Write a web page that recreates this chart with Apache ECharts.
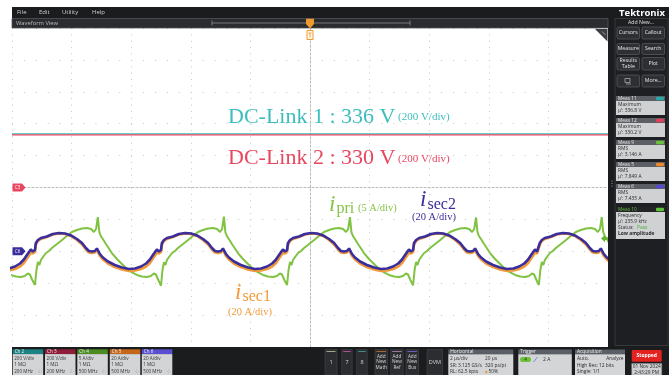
<!DOCTYPE html>
<html>
<head>
<meta charset="utf-8">
<script src="https://cdn.jsdelivr.net/npm/echarts@6/dist/echarts.min.js"></script>
<style>
  html, body { margin: 0; padding: 0; background: #ffffff; }
  #scope { width: 669px; height: 375px; }
</style>
</head>
<body>
<div id="scope"></div>
<script>
// ---- Captured waveform data (time in microseconds) ----
const timeSpanUs = [-10, 10];      // 2 us/div, 10 divisions, trigger at 50 %
const usPerDiv = 2;

// DC-link voltages (Ch2, Ch3), volts
const dcLink1Volts = 336;
const dcLink2Volts = 330;

// Primary current i_pri (Ch4, 5 A/div)
const priTimeUs = [
  -10.20,-10.04,-9.87,-9.70,-9.57,-9.47,-9.40,-9.32,
  -9.23,-9.18,-9.13,-9.08,-9.03,-8.96,-8.86,-8.76,-8.66,-8.49,-8.32,-8.16,-7.99,-7.82,-7.65,-7.48,-7.35,-7.25,-7.18,-7.12,-7.07,-7.02,-6.96,-6.91,-6.85,-6.78,-6.65,-6.48,-6.31,-6.14,-5.97,-5.81,-5.64,-5.47,-5.34,-5.24,-5.17,-5.09,
  -5.00,-4.95,-4.90,-4.85,-4.80,-4.73,-4.63,-4.53,-4.43,-4.26,-4.09,-3.93,-3.76,-3.59,-3.42,-3.25,-3.12,-3.02,-2.95,-2.89,-2.84,-2.79,-2.73,-2.68,-2.62,-2.55,-2.42,-2.25,-2.08,-1.91,-1.74,-1.58,-1.41,-1.24,-1.11,-1.01,-0.94,-0.86,
  -0.77,-0.72,-0.67,-0.62,-0.57,-0.50,-0.40,-0.30,-0.20,-0.03,0.14,0.30,0.47,0.64,0.81,0.98,1.11,1.21,1.28,1.34,1.39,1.44,1.50,1.55,1.61,1.68,1.81,1.98,2.15,2.32,2.49,2.65,2.82,2.99,3.12,3.22,3.29,3.37,
  3.46,3.51,3.56,3.61,3.66,3.73,3.83,3.93,4.03,4.20,4.37,4.53,4.70,4.87,5.04,5.21,5.34,5.44,5.51,5.57,5.62,5.67,5.73,5.78,5.84,5.91,6.04,6.21,6.38,6.55,6.72,6.88,7.05,7.22,7.35,7.45,7.52,7.60,
  7.68,7.73,7.78,7.83,7.88,7.95,8.05,8.15,8.25,8.42,8.59,8.75,8.92,9.09,9.26,9.43,9.56,9.66,9.73,9.79,9.84,9.89,9.95,10.00,10.06
];
const priAmps = [
  -3.32,-3.71,-3.95,-4.03,-3.87,-3.48,-3.64,-4.50,
  -5.28,-2.93,-1.68,-2.15,-1.36,-0.89,-0.27,0.05,0.52,1.14,1.77,2.40,3.02,3.34,3.57,3.65,3.49,3.02,3.49,5.37,3.02,2.40,2.71,1.61,1.14,0.67,-0.27,-1.21,-1.99,-2.77,-3.32,-3.71,-3.95,-4.03,-3.87,-3.48,-3.64,-4.50,
  -5.40,-2.93,-1.70,-2.15,-1.36,-0.89,-0.27,0.05,0.52,1.14,1.77,2.40,3.02,3.34,3.57,3.65,3.49,3.02,3.49,5.45,3.02,2.40,2.71,1.61,1.14,0.67,-0.27,-1.21,-1.99,-2.77,-3.32,-3.71,-3.95,-4.03,-3.87,-3.48,-3.64,-4.50,
  -5.28,-2.93,-1.68,-2.15,-1.36,-0.89,-0.27,0.05,0.52,1.14,1.77,2.40,3.02,3.34,3.57,3.65,3.49,3.02,3.49,5.37,3.02,2.40,2.71,1.61,1.14,0.67,-0.27,-1.21,-1.99,-2.77,-3.32,-3.71,-3.95,-4.03,-3.87,-3.48,-3.64,-4.50,
  -5.34,-2.93,-1.68,-2.15,-1.36,-0.89,-0.27,0.05,0.52,1.14,1.77,2.40,3.02,3.34,3.57,3.65,3.49,3.02,3.49,5.30,3.02,2.40,2.71,1.61,1.14,0.67,-0.27,-1.21,-1.99,-2.77,-3.32,-3.71,-3.95,-4.03,-3.87,-3.48,-3.64,-4.50,
  -5.28,-2.93,-1.68,-2.15,-1.36,-0.89,-0.27,0.05,0.52,1.14,1.77,2.40,3.02,3.34,3.57,3.65,3.49,3.02,3.49,5.37,3.02,2.40,2.71,1.61,1.14
];

// Secondary currents i_sec1 (Ch5) and i_sec2 (Ch6), 20 A/div
const secTimeUs = [
  -10.10,-9.90,-9.73,-9.60,-9.50,-9.43,-9.37,-9.30,-9.25,
  -9.23,-9.20,-9.13,-9.03,-8.83,-8.63,-8.42,-8.22,-8.02,-7.82,-7.65,-7.52,-7.42,-7.32,-7.22,-7.15,-7.10,-7.05,-6.95,-6.78,-6.55,-6.31,-6.08,-5.87,-5.67,-5.50,-5.37,-5.27,-5.20,-5.14,-5.07,-5.02,
  -5.00,-4.97,-4.90,-4.80,-4.60,-4.40,-4.19,-3.99,-3.79,-3.59,-3.42,-3.29,-3.19,-3.09,-2.99,-2.92,-2.87,-2.82,-2.72,-2.55,-2.32,-2.08,-1.85,-1.64,-1.44,-1.27,-1.14,-1.04,-0.97,-0.91,-0.84,-0.79,
  -0.77,-0.74,-0.67,-0.57,-0.37,-0.17,0.04,0.24,0.44,0.64,0.81,0.94,1.04,1.14,1.24,1.31,1.36,1.41,1.51,1.68,1.91,2.15,2.38,2.59,2.79,2.96,3.09,3.19,3.26,3.32,3.39,3.44,
  3.46,3.49,3.56,3.66,3.86,4.06,4.27,4.47,4.67,4.87,5.04,5.17,5.27,5.37,5.47,5.54,5.59,5.64,5.74,5.91,6.14,6.38,6.61,6.82,7.02,7.19,7.32,7.42,7.49,7.55,7.62,7.67,
  7.68,7.71,7.78,7.88,8.08,8.28,8.49,8.69,8.89,9.09,9.26,9.39,9.49,9.59,9.69,9.76,9.81,9.86,9.96,10.13
];
const sec1Amps = [
  -12.04,-11.10,-9.53,-7.34,-4.51,-2.63,-0.75,-1.38,-1.69,
  -0.44,3.95,6.46,7.71,8.97,10.53,11.16,10.85,9.59,7.09,4.26,1.13,-0.75,-1.07,-0.75,0.82,0.19,-2.95,-5.14,-7.65,-9.84,-11.41,-12.35,-12.04,-11.10,-9.53,-7.34,-4.51,-2.63,-0.75,-1.38,-1.69,
  -0.44,3.95,6.46,7.71,8.97,10.53,11.16,10.85,9.59,7.09,4.26,1.13,-0.75,-1.07,-0.75,0.82,0.19,-2.95,-5.14,-7.65,-9.84,-11.41,-12.35,-12.04,-11.10,-9.53,-7.34,-4.51,-2.63,-0.75,-1.38,-1.69,
  -0.44,3.95,6.46,7.71,8.97,10.53,11.16,10.85,9.59,7.09,4.26,1.13,-0.75,-1.07,-0.75,0.82,0.19,-2.95,-5.14,-7.65,-9.84,-11.41,-12.35,-12.04,-11.10,-9.53,-7.34,-4.51,-2.63,-0.75,-1.38,-1.69,
  -0.44,3.95,6.46,7.71,8.97,10.53,11.16,10.85,9.59,7.09,4.26,1.13,-0.75,-1.07,-0.75,0.82,0.19,-2.95,-5.14,-7.65,-9.84,-11.41,-12.35,-12.04,-11.10,-9.53,-7.34,-4.51,-2.63,-0.75,-1.38,-1.69,
  -0.44,3.95,6.46,7.71,8.97,10.53,11.16,10.85,9.59,7.09,4.26,1.13,-0.75,-1.07,-0.75,0.82,0.19,-2.95,-5.14,-7.65
];
const sec2Amps = [
  -10.78,-9.53,-7.65,-5.14,-2.32,-0.44,1.13,-0.13,-0.44,
  0.82,5.20,7.09,8.34,9.28,10.85,11.47,11.16,9.91,7.71,5.20,2.07,0.19,-0.13,0.19,1.76,1.44,-1.69,-3.89,-6.40,-8.59,-10.16,-11.10,-10.78,-9.53,-7.65,-5.14,-2.32,-0.44,1.13,-0.13,-0.44,
  0.82,5.20,7.09,8.34,9.28,10.85,11.47,11.16,9.91,7.71,5.20,2.07,0.19,-0.13,0.19,1.76,1.44,-1.69,-3.89,-6.40,-8.59,-10.16,-11.10,-10.78,-9.53,-7.65,-5.14,-2.32,-0.44,1.13,-0.13,-0.44,
  0.82,5.20,7.09,8.34,9.28,10.85,11.47,11.16,9.91,7.71,5.20,2.07,0.19,-0.13,0.19,1.76,1.44,-1.69,-3.89,-6.40,-8.59,-10.16,-11.10,-10.78,-9.53,-7.65,-5.14,-2.32,-0.44,1.13,-0.13,-0.44,
  0.82,5.20,7.09,8.34,9.28,10.85,11.47,11.16,9.91,7.71,5.20,2.07,0.19,-0.13,0.19,1.76,1.44,-1.69,-3.89,-6.40,-8.59,-10.16,-11.10,-10.78,-9.53,-7.65,-5.14,-2.32,-0.44,1.13,-0.13,-0.44,
  0.82,5.20,7.09,8.34,9.28,10.85,11.47,11.16,9.91,7.71,5.20,2.07,0.19,-0.13,0.19,1.76,1.44,-1.69,-3.89,-6.40
];

// Vertical settings per channel: scale (units/div) and ground offset (div from centre)
const voltsPerDiv = 200, voltOffsetDiv = 0;
const priAmpsPerDiv = 5, priOffsetDiv = -2;
const secAmpsPerDiv = 20, secOffsetDiv = -2;
const triggerLevelAmps = 2;

// ---- Colours ----
const C_DC1 = '#3dbdbd', C_DC2 = '#e8475f', C_PRI = '#80c242', C_SEC1 = '#f39a38', C_SEC2 = '#3a2d9c';
const UI = 'Open Sans';
const SERIF = 'Liberation Serif';

const zip = (ts, vs) => ts.map((t, i) => [t, vs[i]]);
const axisRange = (perDiv, offsetDiv) => ({ min: (-5 - offsetDiv) * perDiv, max: (5 - offsetDiv) * perDiv });

const chart = echarts.init(document.getElementById('scope'), null, { renderer: 'canvas' });

const hiddenAxis = (perDiv, off) => Object.assign({ type: 'value', show: false, splitLine: { show: false } }, axisRange(perDiv, off));

chart.setOption({
  animation: false,
  grid: { left: 12, top: 28, width: 596, height: 319, show: true, backgroundColor: '#ffffff', borderWidth: 0 },
  xAxis: {
    type: 'value', min: timeSpanUs[0], max: timeSpanUs[1], interval: usPerDiv,
    axisLabel: { show: false }, axisTick: { show: false },
    axisLine: { show: true, onZero: true, onZeroAxisIndex: 0, lineStyle: { color: '#bcbcbc', width: 1, type: [2, 2] } },
    splitLine: { show: true, lineStyle: { color: '#c8c8c8', width: 1, type: [1, 5.38] } }
  },
  yAxis: [
    Object.assign({
      type: 'value', interval: voltsPerDiv,
      axisLabel: { show: false }, axisTick: { show: false },
      axisLine: { show: true, onZero: true, lineStyle: { color: '#bcbcbc', width: 1, type: [2, 2] } },
      splitLine: { show: true, lineStyle: { color: '#c8c8c8', width: 1, type: [1, 10.92] } }
    }, axisRange(voltsPerDiv, voltOffsetDiv)),
    hiddenAxis(priAmpsPerDiv, priOffsetDiv),
    hiddenAxis(secAmpsPerDiv, secOffsetDiv)
  ],
  series: [
    { name: 'DC-Link 1', type: 'line', yAxisIndex: 0, symbol: 'none', silent: true,
      data: [[timeSpanUs[0], dcLink1Volts], [timeSpanUs[1], dcLink1Volts]],
      lineStyle: { color: C_DC1, width: 1.4 } },
    { name: 'DC-Link 2', type: 'line', yAxisIndex: 0, symbol: 'none', silent: true,
      data: [[timeSpanUs[0], dcLink2Volts], [timeSpanUs[1], dcLink2Volts]],
      lineStyle: { color: C_DC2, width: 1.3 } },
    { name: 'i_pri', type: 'line', yAxisIndex: 1, symbol: 'none', silent: true,
      data: zip(priTimeUs, priAmps), lineStyle: { color: C_PRI, width: 2 } },
    { name: 'i_sec1', type: 'line', yAxisIndex: 2, symbol: 'none', silent: true,
      data: zip(secTimeUs, sec1Amps), lineStyle: { color: C_SEC1, width: 2.6 } },
    { name: 'i_sec2', type: 'line', yAxisIndex: 2, symbol: 'none', silent: true,
      data: zip(secTimeUs, sec2Amps), lineStyle: { color: C_SEC2, width: 2.6 } }
  ]
});

// ---- Screen furniture and annotations ----
const R = (x, y, w, h, fill, o = {}) => ({
  type: 'rect', silent: true, z: o.z || 50,
  shape: { x, y, width: w, height: h, r: o.r || 0 },
  style: { fill: fill, stroke: o.stroke || null, lineWidth: o.lw || 1 }
});
const T = (x, y, text, o = {}) => ({
  type: 'text', silent: true, z: o.z || 60, x, y,
  style: {
    text, fill: o.color || '#dcdcdc', fontSize: o.size || 5.5, fontFamily: o.family || UI,
    fontWeight: o.weight || 'normal', fontStyle: o.style || 'normal',
    align: o.align || 'left', verticalAlign: 'middle',
    textAlign: o.align || 'left', textVerticalAlign: 'middle'
  }
});
const P = (pts, fill, o = {}) => ({ type: 'polygon', silent: true, z: o.z || 60, shape: { points: pts }, style: { fill, stroke: o.stroke || null, lineWidth: o.lw || 1 } });
const L = (x1, y1, x2, y2, stroke, lw, z) => ({ type: 'line', silent: true, z: z || 60, shape: { x1, y1, x2, y2 }, style: { stroke, lineWidth: lw || 1 } });

const g = [];
const BG = '#1b1c1e';
// screen body around the graticule
g.push(R(12, 7, 657, 21, BG), R(608, 28, 61, 319, BG), R(12, 347, 657, 28, BG));

// menu bar
[['File', 17], ['Edit', 39], ['Utility', 62], ['Help', 92]].forEach(([s, x]) => g.push(T(x, 12.5, s, { size: 6, color: '#cfcfcf' })));

// waveform view title bar with record overview
g.push(R(12, 18.5, 596, 9.5, '#2a2c2f', { stroke: '#505357', lw: 0.8 }));
g.push(T(16, 23.3, 'Waveform View', { size: 5.8, color: '#bdbdbd' }));
g.push(L(212, 23, 410, 23, '#8e8e8e', 0.8), L(212, 20.5, 212, 25.5, '#8e8e8e', 0.8), L(410, 20.5, 410, 25.5, '#8e8e8e', 0.8));

// right-hand panel
g.push(R(615, 18.5, 53, 327, '#1e1f22', { stroke: '#3d3f43', lw: 0.8 }));
g.push(T(642, 13.5, 'Tektronix', { size: 9.5, weight: 'bold', color: '#ffffff', align: 'center' }));
g.push(T(641, 22.5, 'Add New...', { size: 5.2, color: '#e0e0e0', align: 'center' }));
const btn = (x, y, w, h, lines) => {
  g.push(R(x, y, w, h, '#2d2f33', { stroke: '#5a5d62', lw: 0.7, r: 1.5 }));
  const cy = y + h / 2 - (lines.length - 1) * 2.8;
  lines.forEach((s, i) => g.push(T(x + w / 2, cy + i * 5.6, s, { size: 5.2, color: '#e6e6e6', align: 'center' })));
};
btn(617, 27, 22.5, 12, ['Cursors']); btn(642, 27, 22.5, 12, ['Callout']);
btn(617, 43.5, 22.5, 11, ['Measure']); btn(642, 43.5, 22.5, 11, ['Search']);
btn(617, 57.5, 22.5, 12.5, ['Results', 'Table']); btn(642, 57.5, 22.5, 12.5, ['Plot']);
btn(617, 75, 22.5, 12, []); btn(642, 75, 22.5, 12, ['More...']);
// icon inside the blank button
g.push(R(625, 78.5, 5, 4, null, { stroke: '#d0d0d0', lw: 0.6, z: 61 }), L(626, 84, 631, 84, '#d0d0d0', 0.6, 61));

// measurement badges
const meas = (y, title, badge, lines, bodyH, headFill, headText) => {
  g.push(R(616, y, 49, 5, headFill || '#5b5e64'));
  g.push(T(618, y + 2.6, title, { size: 4.8, color: headText || '#e8e8e8' }));
  g.push(R(656, y + 0.8, 8, 3.4, badge, { r: 1.2, z: 61 }));
  g.push(R(616, y + 5, 49, bodyH, '#d0d1d3'));
  lines.forEach((l, i) => g.push(T(618, y + 8.6 + i * 6.1, l.t, { size: 4.9, color: l.c || '#2a2a2a', weight: l.w || 'normal' })));
};
meas(96, 'Meas 11', '#2aa7a7', [{ t: 'Maximum' }, { t: "\u03bc': 336.8 V" }], 14);
meas(118, 'Meas 12', '#e0405a', [{ t: 'Maximum' }, { t: "\u03bc': 330.2 V" }], 14);
meas(140, 'Meas 9', '#6cc13a', [{ t: 'RMS' }, { t: "\u03bc': 3.146 A" }], 14);
meas(162, 'Meas 5', '#ef8a2a', [{ t: 'RMS' }, { t: "\u03bc': 7.849 A" }], 14);
meas(184, 'Meas 6', '#5548d2', [{ t: 'RMS' }, { t: "\u03bc': 7.435 A" }], 14);
meas(207, 'Meas 10', '#5fc23a', [{ t: 'Frequency' }, { t: "\u03bc': 235.9 kHz" }, { t: 'Status:' }, { t: 'Low amplitude', w: 'bold' }], 27, '#232427', '#5dbb3c');
g.push(T(637, 227.3, 'Pass', { size: 4.9, color: '#4cae3a' }));
// splitter grip
[181, 183.5, 186].forEach(y => g.push({ type: 'circle', silent: true, z: 60, shape: { cx: 612, cy: y, r: 0.6 }, style: { fill: '#b0b0b0' } }));

// bottom bar: channel badges
const chBadge = (x, name, head, l1, l2, l3) => {
  g.push(R(x, 349.3, 30.5, 4.8, head));
  g.push(T(x + 2, 351.7, name, { size: 4.6, color: '#f0f0f0' }));
  g.push(R(x, 354.1, 30.5, 21, '#d3d4d6'));
  g.push(T(x + 1.5, 358.4, l1, { size: 4.6, color: '#333' }));
  g.push(T(x + 1.5, 364.4, l2, { size: 4.6, color: '#333' }));
  g.push(T(x + 1.5, 371.6, l3, { size: 4.6, color: '#333' }));
  g.push(T(x + 25, 371.2, '\u2058', { size: 4.6, color: '#444' }));
};
chBadge(12.7, 'Ch 2', '#1b8383', '200 V/div', '1 M\u03a9', '200 MHz');
chBadge(45, 'Ch 3', '#911c39', '200 V/div', '1 M\u03a9', '200 MHz');
chBadge(77.3, 'Ch 4', '#4b8b20', '5 A/div', '1 M\u03a9', '500 MHz');
chBadge(109.8, 'Ch 5', '#c5671b', '20 A/div', '1 M\u03a9', '500 MHz');
chBadge(141.8, 'Ch 6', '#5a4ed2', '20 A/div', '1 M\u03a9', '500 MHz');

// bottom bar: channel / add-new buttons
const slot = (x, w, top, lines) => {
  g.push(R(x, 349.5, w, 25.5, '#2b2d30', { stroke: '#45484c', lw: 0.6 }));
  g.push(L(x + 1.5, 351.5, x + w - 1.5, 351.5, top, 1));
  const cy = 362 - (lines.length - 1) * 2.9;
  lines.forEach((s, i) => g.push(T(x + w / 2, cy + i * 5.8, s, { size: lines.length > 1 ? 4.7 : 5.5, color: '#d8d8d8', align: 'center' })));
};
slot(325, 12, '#a6a68e', ['1']);
slot(341.7, 10.5, '#b0508e', ['7']);
slot(356.7, 10.5, '#3f8f8c', ['8']);
slot(375, 12.5, '#a8672c', ['Add', 'New', 'Math']);
slot(390.7, 12.5, '#9a7a9a', ['Add', 'New', 'Ref']);
slot(406, 12.5, '#6b5cc0', ['Add', 'New', 'Bus']);
slot(427, 15.5, '#2b2d30', ['DVM']);

// bottom bar: setting panels
const panel = (x, w, title) => {
  g.push(R(x, 349.5, w, 4.8, '#5a5f67'));
  g.push(T(x + 2, 351.9, title, { size: 4.8, color: '#f0f0f0' }));
  g.push(R(x, 354.3, w, 20.7, '#d4d5d7'));
};
panel(448.3, 65, 'Horizontal');
g.push(T(450, 358.6, '2 \u00b5s/div', { size: 4.8, color: '#2a2a2a' }), T(485, 358.6, '20 \u00b5s', { size: 4.8, color: '#2a2a2a' }));
g.push(T(450, 365.3, 'SR: 3.125 GS/s', { size: 4.8, color: '#2a2a2a' }), T(485, 365.3, '320 ps/pt', { size: 4.8, color: '#2a2a2a' }));
g.push(T(450, 371.9, 'RL: 62.5 kpts', { size: 4.8, color: '#2a2a2a' }), T(488.5, 371.9, '50%', { size: 4.8, color: '#2a2a2a' }));
g.push({ type: 'circle', silent: true, z: 61, shape: { cx: 486.3, cy: 371.9, r: 1.1 }, style: { fill: '#e8902a' } });
panel(518.3, 53.5, 'Trigger');
g.push(R(520, 357, 11, 5, '#6cc13a', { r: 2.2, z: 61 }), T(525.5, 359.5, '4', { size: 4.6, color: '#1e3d10', align: 'center', z: 62 }));
g.push(L(533.5, 362, 537.5, 357, '#5a7acc', 0.8, 61));
g.push(T(543, 359.5, '2 A', { size: 5, color: '#2a2a2a' }));
panel(575, 50, 'Acquisition');
g.push(T(577, 358.6, 'Auto,', { size: 4.8, color: '#2a2a2a' }), T(623.5, 358.6, 'Analyze', { size: 4.8, color: '#2a2a2a', align: 'right' }));
g.push(T(577, 365.3, 'High Res: 12 bits', { size: 4.8, color: '#2a2a2a' }));
g.push(T(577, 371.9, 'Single: 1/1', { size: 4.8, color: '#2a2a2a' }));
g.push(R(631.7, 350, 30, 11.7, '#e4221f', { r: 1 }), T(646.7, 355.9, 'Stopped', { size: 5, weight: 'bold', color: '#ffffff', align: 'center' }));
g.push(R(631.7, 363.5, 30, 11.5, '#cfd0d2', { stroke: '#8a8c90', lw: 0.5 }));
g.push(T(646.7, 366.8, '01 Nov 2024', { size: 4.8, color: '#2a2a2a', align: 'center' }));
g.push(T(646.7, 372.4, '2:43:29 PM', { size: 4.8, color: '#2a2a2a', align: 'center' }));

// graticule corner tab
g.push(P([[595, 29], [607.5, 29], [607.5, 41.5]], '#3b3d41', { z: 80 }));
g.push(L(602, 31.5, 605.5, 35, '#dcdcdc', 0.6, 81));

// channel ground markers, trigger position and trigger level, from the axes
const yDcGround = chart.convertToPixel({ yAxisIndex: 0 }, 0);
const ySecGround = chart.convertToPixel({ yAxisIndex: 2 }, 0);
const yTrigLevel = chart.convertToPixel({ yAxisIndex: 1 }, triggerLevelAmps);
const xTrigPos = chart.convertToPixel({ xAxisIndex: 0 }, 0);
const marker = (y, fill, label) => {
  g.push(P([[12.5, y - 4], [22, y - 4], [25.5, y], [22, y + 4], [12.5, y + 4]], fill, { z: 90 }));
  g.push(T(15, y, label, { size: 4.4, color: '#ffffff', z: 91 }));
};
marker(yDcGround, C_DC2, 'C3');
marker(ySecGround, C_SEC2, 'C6');
g.push(P([[601, yTrigLevel], [605, yTrigLevel - 3.6], [605, yTrigLevel - 1.4], [608, yTrigLevel - 1.4], [608, yTrigLevel + 1.4], [605, yTrigLevel + 1.4], [605, yTrigLevel + 3.6]], '#69b238', { z: 90 }));
g.push(P([[xTrigPos - 4, 18.8], [xTrigPos + 4, 18.8], [xTrigPos + 4, 24], [xTrigPos, 28.5], [xTrigPos - 4, 24]], '#ee9a2e', { z: 90 }));
g.push(R(xTrigPos - 3, 30.5, 6, 9, '#fff6ea', { stroke: '#ee9a2e', lw: 1, z: 90 }));
g.push(L(xTrigPos - 1.5, 33, xTrigPos + 1.5, 33, '#ee9a2e', 0.8, 91), L(xTrigPos, 33, xTrigPos, 37.5, '#ee9a2e', 0.8, 91));

// signal annotations
const TX = (x, y, s, size, color, style) => T(x, y, s, { size, color, family: SERIF, style: style || 'normal', z: 95 });
g.push(TX(228, 117, 'DC-Link 1 : 336 V', 22, C_DC1), TX(398, 117.5, '(200 V/div)', 11, C_DC1));
g.push(TX(228, 158.5, 'DC-Link 2 : 330 V', 22, C_DC2), TX(398, 159, '(200 V/div)', 11, C_DC2));
g.push(TX(329, 205, 'i', 23, '#86c447', 'italic'), TX(336.5, 208.5, 'pri', 16, '#86c447'), TX(358, 208.5, '(5 A/div)', 10.5, '#86c447'));
g.push(TX(420, 200, 'i', 23, C_SEC2, 'italic'), TX(427.5, 204.5, 'sec2', 16, C_SEC2), TX(412, 217.5, '(20 A/div)', 10.5, C_SEC2));
g.push(TX(235, 293, 'i', 23, C_SEC1, 'italic'), TX(242.5, 297, 'sec1', 16, C_SEC1), TX(228, 312.5, '(20 A/div)', 10.5, C_SEC1));

chart.setOption({ graphic: { elements: g } });
</script>
</body>
</html>
